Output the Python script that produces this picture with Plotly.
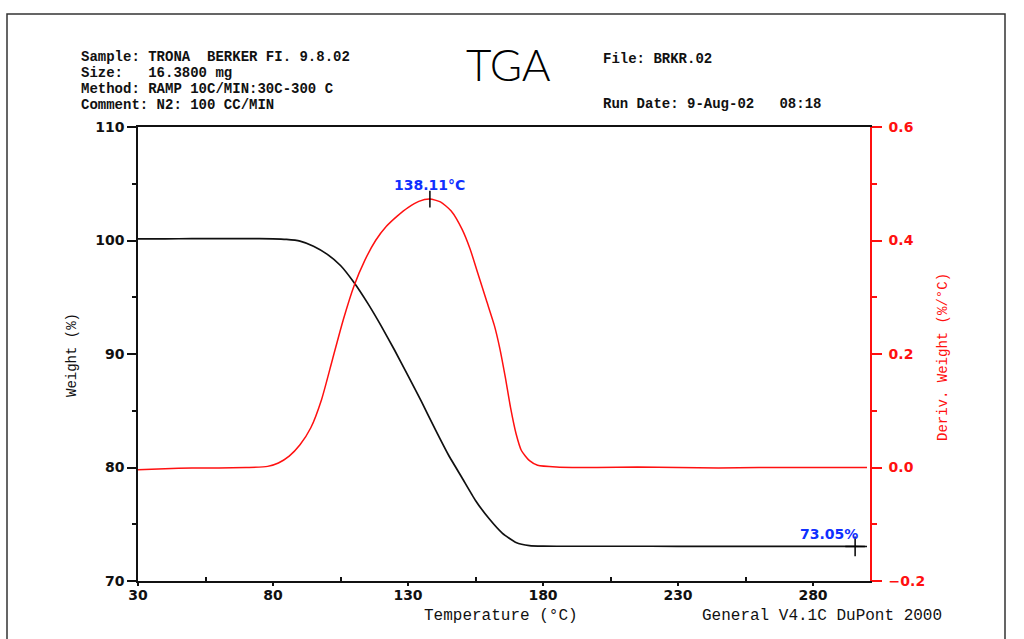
import plotly.graph_objects as go

# --- TGA run data -----------------------------------------------------------
temp_weight = [30, 40, 50, 60, 70, 80, 85, 90, 95, 100, 105, 110, 115, 120, 125,
               130, 135, 140, 145, 150, 155, 160, 165, 170, 175, 180, 190, 200,
               220, 240, 260, 280, 295.6, 300]
weight_pct = [100.15, 100.15, 100.16, 100.16, 100.16, 100.15, 100.1, 99.95, 99.5,
              98.8, 97.8, 96.3, 94.5, 92.5, 90.35, 88.1, 85.8, 83.4, 81.1, 79.1,
              77.1, 75.5, 74.2, 73.4, 73.12, 73.07, 73.06, 73.06, 73.06, 73.05,
              73.05, 73.05, 73.05, 73.04]

temp_deriv = [30, 40, 50, 60, 70, 78, 82, 86, 90, 94, 98, 102, 106, 110, 114, 118,
              122, 126, 130, 134, 138.11, 142, 146, 150, 153, 156, 159, 162, 164,
              166, 168, 170, 172, 175, 178, 185, 200, 215, 230, 245, 260, 275,
              290, 300]
deriv_weight = [-0.004, -0.002, -0.001, -0.001, 0.0, 0.002, 0.008, 0.02, 0.04,
                0.07, 0.12, 0.19, 0.26, 0.32, 0.365, 0.40, 0.425, 0.443, 0.458,
                0.469, 0.473, 0.468, 0.452, 0.42, 0.385, 0.34, 0.295, 0.25, 0.21,
                0.16, 0.105, 0.06, 0.03, 0.012, 0.004, 0.001, 0.0, 0.001, 0.0,
                -0.001, 0.0, 0.0, 0.0, 0.0]

peak_temp = 138.11
peak_deriv = 0.473
residue_temp = 295.6
residue_pct = 73.05

x_ticks = [30, 80, 130, 180, 230, 280]
y_ticks = [70, 80, 90, 100, 110]
y2_ticks = [-0.2, 0.0, 0.2, 0.4, 0.6]
y2_labels = ["\u22120.2", "0.0", "0.2", "0.4", "0.6"]

header_left = ["Sample: TRONA  BERKER FI. 9.8.02",
               "Size:   16.3800 mg",
               "Method: RAMP 10C/MIN:30C-300 C",
               "Comment: N2: 100 CC/MIN"]

RED = "#ff1010"
BLUE = "#1030ff"
MONO = "Liberation Mono, Courier New, monospace"
BOLD_SANS = "DejaVu Sans, Liberation Sans, sans-serif"

# --- page geometry ----------------------------------------------------------
W, H = 1024, 639
L, R, T, B = 138, 870, 127, 581


def px(x):
    return (x - L) / (R - L)


def py(y):
    return (B - y) / (B - T)


fig = go.Figure()

fig.add_trace(go.Scatter(x=temp_weight, y=weight_pct, mode="lines",
                         line=dict(color="#101010", width=1.7, shape="spline",
                                   smoothing=0.5),
                         hoverinfo="skip", showlegend=False))
fig.add_trace(go.Scatter(x=temp_deriv, y=deriv_weight, mode="lines", yaxis="y2",
                         line=dict(color=RED, width=1.5, shape="spline", smoothing=0.6),
                         hoverinfo="skip", showlegend=False))
# peak marker and residue marker
fig.add_trace(go.Scatter(x=[peak_temp], y=[peak_deriv], yaxis="y2", mode="markers",
                         marker=dict(symbol="line-ns", size=12,
                                     line=dict(color="#000000", width=1.5)),
                         hoverinfo="skip", showlegend=False))
fig.add_trace(go.Scatter(x=[residue_temp], y=[residue_pct], mode="markers",
                         marker=dict(symbol="cross-thin", size=14,
                                     line=dict(color="#000000", width=1.5)),
                         hoverinfo="skip", showlegend=False))

tick_font = dict(family=BOLD_SANS, size=14, color="#111111", weight="bold")

fig.update_layout(
    width=W, height=H,
    margin=dict(l=L, r=W - R, t=T, b=H - B, pad=0),
    paper_bgcolor="white", plot_bgcolor="white",
    xaxis=dict(range=[30, 30 + (R - L) / 2.7], tickvals=x_ticks,
               ticks="outside", ticklen=3, tickwidth=1.5, tickcolor="#111111",
               minor=dict(tickvals=[55, 105, 155, 205, 255], ticks="inside",
                          ticklen=4, tickwidth=1.5, tickcolor="#111111"),
               showline=True, linecolor="#111111", linewidth=1.6, mirror=True,
               showgrid=False, zeroline=False, tickfont=tick_font,
               ticklabelstandoff=-3),
    yaxis=dict(range=[70, 110], tickvals=y_ticks,
               ticks="outside", ticklen=9, tickwidth=1.5, tickcolor="#111111",
               minor=dict(tickvals=[75, 85, 95, 105], ticks="outside",
                          ticklen=4, tickwidth=1.5, tickcolor="#111111"),
               showline=True, linecolor="#111111", linewidth=1.6,
               showgrid=False, zeroline=False, tickfont=tick_font),
    yaxis2=dict(range=[-0.2, 0.6], overlaying="y", side="right",
                tickvals=y2_ticks, ticktext=y2_labels,
                ticks="outside", ticklen=10, tickwidth=1.5, tickcolor=RED,
                minor=dict(tickvals=[-0.1, 0.1, 0.3, 0.5], ticks="outside",
                           ticklen=5, tickwidth=1.5, tickcolor=RED),
                showline=True, linecolor=RED, linewidth=1.6,
                showgrid=False, zeroline=False,
                tickfont=dict(family=BOLD_SANS, size=14, color=RED, weight="bold"),
                ticklabelstandoff=4),
)

# outer frame of the printout
fig.add_shape(type="rect", xref="paper", yref="paper",
              x0=px(7), x1=px(1005), y0=py(700), y1=py(14),
              line=dict(color="#333333", width=1.5), fillcolor="rgba(0,0,0,0)",
              layer="below")

ann = []
for i, line in enumerate(header_left):
    ann.append(dict(text=line, x=px(79), y=py(57 + 16 * i), xanchor="left",
                    yanchor="middle", font=dict(family=MONO, size=14, color="#111111",
                                                weight="bold")))
ann.append(dict(text="File: BRKR.02", x=px(601), y=py(59), xanchor="left",
                yanchor="middle", font=dict(family=MONO, size=14, color="#111111",
                                            weight="bold")))
ann.append(dict(text="Run Date: 9-Aug-02   08:18", x=px(601), y=py(104),
                xanchor="left", yanchor="middle",
                font=dict(family=MONO, size=14, color="#111111", weight="bold")))
ann.append(dict(text="TGA", x=px(509), y=py(64), xanchor="center", yanchor="middle",
                font=dict(family="Lato, Liberation Sans, sans-serif", size=44,
                          color="#000000", weight=300)))
ann.append(dict(text="Temperature (\u00b0C)", x=px(501), y=py(616), xanchor="center",
                yanchor="middle", font=dict(family=MONO, size=16, color="#111111")))
ann.append(dict(text="General V4.1C DuPont 2000", x=px(700), y=py(616), xanchor="left",
                yanchor="middle", font=dict(family=MONO, size=16, color="#111111")))
ann.append(dict(text="Weight (%)", x=px(72), y=py(355), xanchor="center",
                yanchor="middle", textangle=-90,
                font=dict(family=MONO, size=14, color="#111111")))
ann.append(dict(text="Deriv. Weight (%/\u00b0C)", x=px(943), y=py(357),
                xanchor="center", yanchor="middle", textangle=-90,
                font=dict(family=MONO, size=14, color=RED)))
# data labels
ann.append(dict(text=f"{peak_temp:.2f}\u00b0C", x=peak_temp, y=peak_deriv,
                xref="x", yref="y2", xanchor="center", yanchor="bottom",
                yshift=4, showarrow=False,
                font=dict(family=BOLD_SANS, size=14, color=BLUE, weight="bold")))
ann.append(dict(text=f"{residue_pct:.2f}%", x=residue_temp, y=residue_pct,
                xref="x", yref="y", xanchor="right", yanchor="bottom",
                xshift=5, yshift=2, showarrow=False,
                font=dict(family=BOLD_SANS, size=14, color=BLUE, weight="bold")))

for a in ann:
    a.setdefault("xref", "paper")
    a.setdefault("yref", "paper")
    a.setdefault("showarrow", False)
fig.update_layout(annotations=ann)

fig.write_html("out.html")
